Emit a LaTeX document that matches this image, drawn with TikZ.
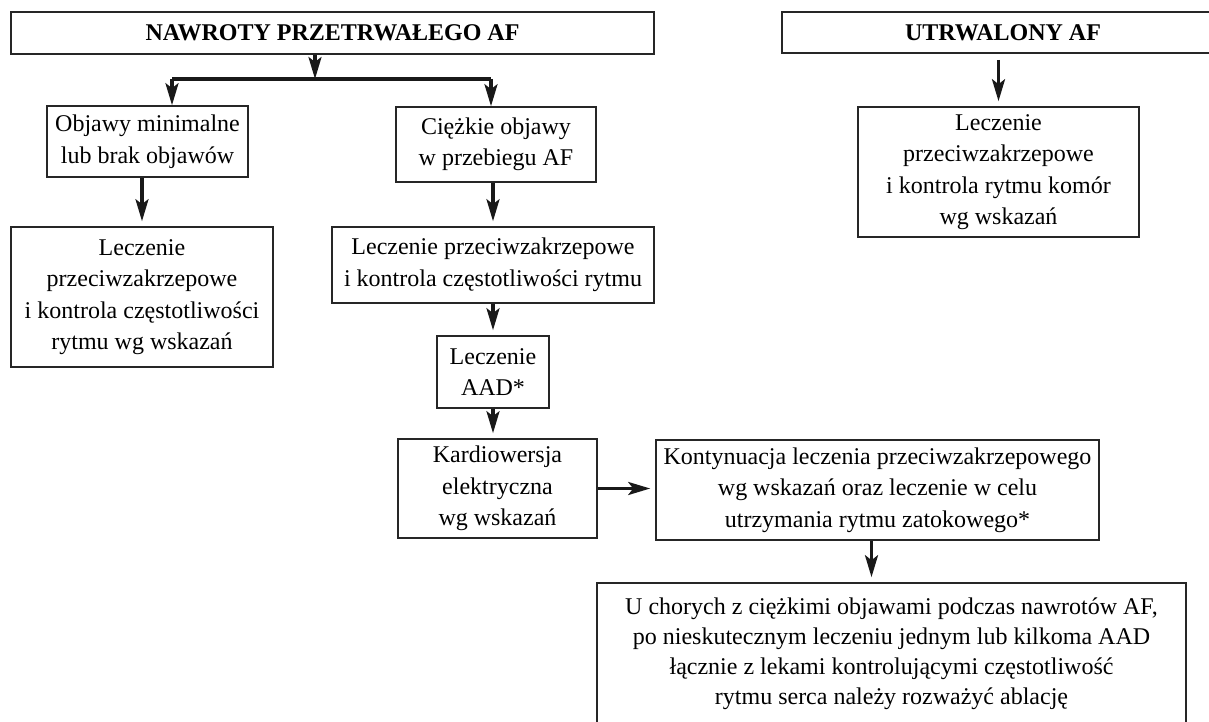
\documentclass[tikz,border=0pt]{standalone}
\usepackage{fontspec}
\setmainfont{Liberation Serif}
\usetikzlibrary{arrows.meta}

\begin{document}
\begin{tikzpicture}[
  x=0.5pt, y=-0.5pt,
  box/.style={draw=black!85, line width=0.8pt, align=center, inner sep=0pt,
    font=\fontsize{12}{15.75}\selectfont},
  head/.style={box, font=\fontsize{12}{15}\selectfont\bfseries},
  arr/.style={-{Stealth[length=11pt, width=6.5pt, inset=2.5pt]}, line width=1.6pt,
    black!90, shorten >=2.5pt},
  bar/.style={line width=1.6pt, black!90}
]
  \useasboundingbox (0,0) rectangle (1209,722);

  % headers
  \node[head, minimum width=321.5pt, minimum height=21pt] (pers) at (332.5,33) {NAWROTY PRZETRWAŁEGO AF};
  \node[head, minimum width=221pt, minimum height=20.5pt] (perm) at (1003,32.5) {UTRWALONY AF};

  % left branch
  \node[box, minimum width=100.5pt, minimum height=35.5pt] (mild) at (147.5,141.5) {Objawy minimalne\\lub brak objawów};
  \node[box, minimum width=131pt, minimum height=70pt] (ratel) at (142,297) {Leczenie\\przeciwzakrzepowe\\i kontrola częstotliwości\\rytmu wg wskazań};

  % middle branch
  \node[box, minimum width=100pt, minimum height=37.5pt] (severe) at (496,144.5) {Ciężkie objawy\\w przebiegu AF};
  \node[box, minimum width=161pt, minimum height=38pt] (rate) at (493,265) {Leczenie przeciwzakrzepowe\\i kontrola częstotliwości rytmu};
  \node[box, minimum width=56pt, minimum height=36pt] (aad) at (493,372) {Leczenie\\AAD*};
  \node[box, minimum width=99.5pt, minimum height=49.5pt] (cardio) at (497.5,488.5) {Kardiowersja\\elektryczna\\wg wskazań};
  \node[box, minimum width=221.5pt, minimum height=50pt] (cont) at (877.5,490) {Kontynuacja leczenia przeciwzakrzepowego\\wg wskazań oraz leczenie w celu\\utrzymania rytmu zatokowego*};
  \node[box, minimum width=294.5pt, minimum height=71pt, font=\fontsize{12}{15}\selectfont] (abl) at (891.5,654) {U chorych z ciężkimi objawami podczas nawrotów AF,\\po nieskutecznym leczeniu jednym lub kilkoma AAD\\łącznie z lekami kontrolującymi częstotliwość\\rytmu serca należy rozważyć ablację};

  % right branch
  \node[box, minimum width=140.5pt, minimum height=65pt] (vent) at (998.5,172) {Leczenie\\przeciwzakrzepowe\\i kontrola rytmu komór\\wg wskazań};

  % fork
  \coordinate (fork)  at (315,79);
  \coordinate (forkl) at (172,79);
  \coordinate (forkr) at (491,79);

  \draw[arr, shorten >=0pt] (pers.south -| fork) -- (fork);
  \draw[bar] (forkl) -- (forkr);
  \draw[arr, shorten >=0pt] (forkl) -- (forkl |- mild.north);
  \draw[arr, shorten >=0pt] (forkr) -- (forkr |- severe.north);
  \draw[arr] (mild.south -| ratel) -- (ratel.north);
  \draw[arr] (severe.south -| rate) -- (rate.north);
  \draw[arr] (rate) -- (aad);
  \draw[arr] (aad.south) -- (aad.south |- cardio.north);
  \draw[arr] (cardio.east) -- (cardio.east -| cont.west);
  \draw[arr] ([xshift=-3pt]cont.south) -- ([xshift=-3pt]cont.south |- abl.north);
  \draw[arr, shorten <=3pt] (perm.south -| vent) -- (vent.north);
\end{tikzpicture}
\end{document}
